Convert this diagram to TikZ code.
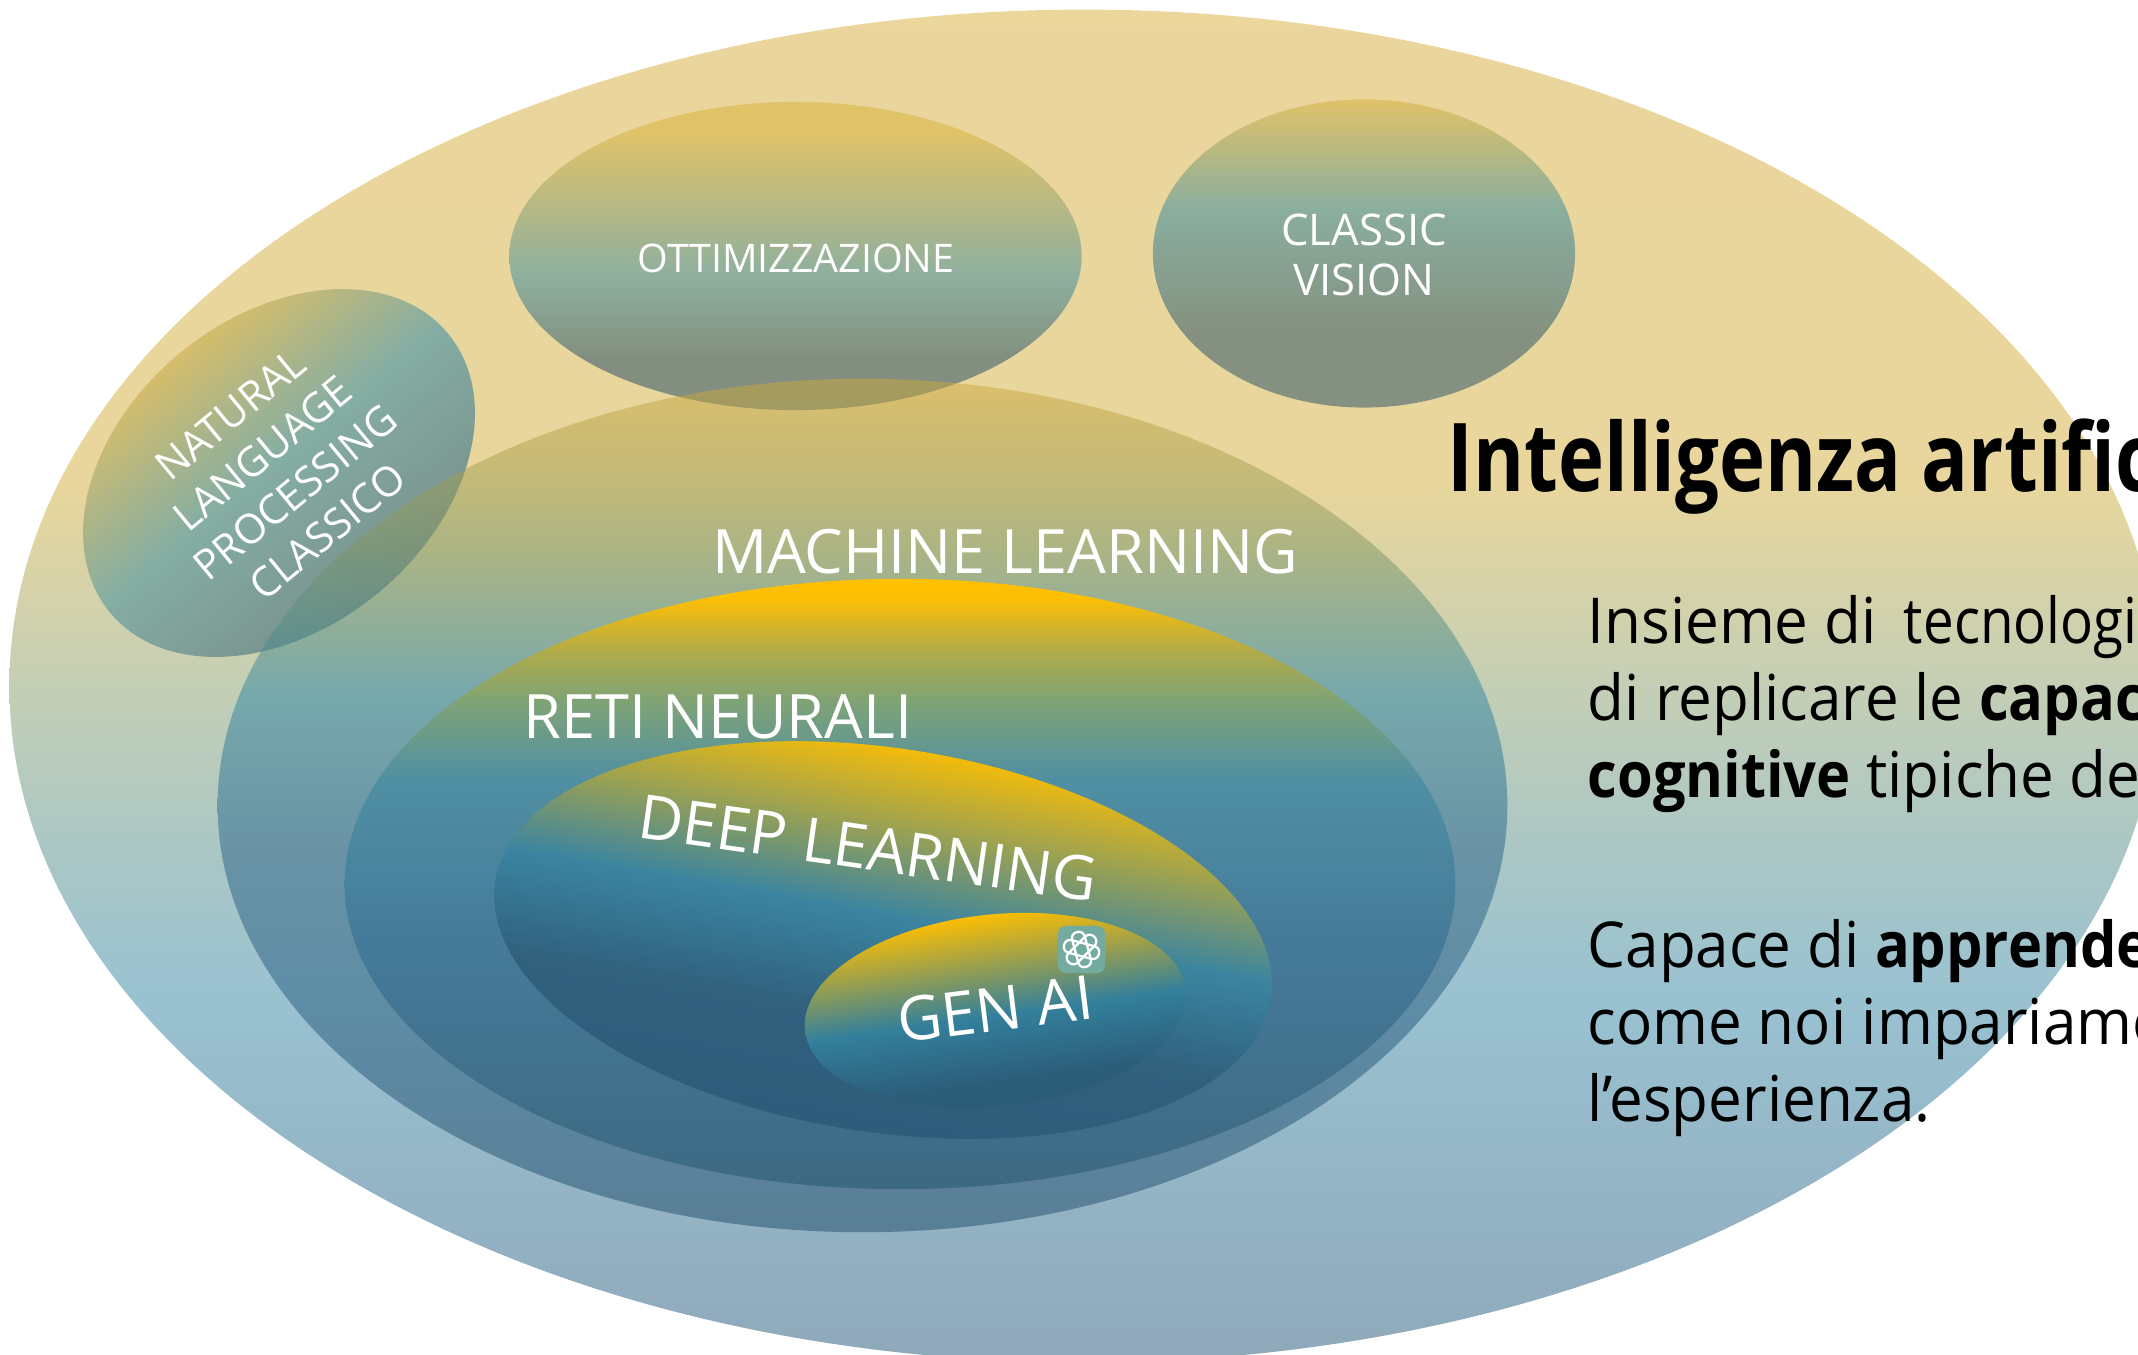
\documentclass[tikz,border=0pt]{standalone}
\usepackage{fontspec}
\usepackage{graphicx}
\setmainfont{Open Sans}
\usetikzlibrary{shapes.geometric}

\pgfdeclareverticalshading{bigfill}{100bp}{rgb(0bp)=(.56,.66,.73); rgb(25bp)=(.56,.66,.73); rgb(38.5bp)=(.60,.76,.82); rgb(44bp)=(.67,.78,.77); rgb(50bp)=(.77,.81,.71); rgb(57.5bp)=(.91,.84,.61); rgb(75bp)=(.92,.84,.61); rgb(100bp)=(.92,.84,.61)}
\pgfdeclareverticalshading{mlfill}{100bp}{rgb(0bp)=(.13,.30,.42); rgb(25bp)=(.13,.30,.42); rgb(47.5bp)=(.16,.38,.53); rgb(56.5bp)=(.17,.52,.64); rgb(65bp)=(.49,.59,.40); rgb(75bp)=(.81,.66,.24); rgb(100bp)=(.81,.66,.24)}
\pgfdeclareverticalshading{retifill}{100bp}{rgb(0bp)=(.24,.41,.51); rgb(25bp)=(.24,.41,.51); rgb(45bp)=(.27,.48,.60); rgb(58.5bp)=(.31,.56,.64); rgb(65bp)=(.50,.64,.46); rgb(69bp)=(.69,.67,.29); rgb(73.5bp)=(1,.75,.01); rgb(100bp)=(1,.75,.01)}
\pgfdeclareverticalshading{deepfill}{100bp}{rgb(0bp)=(.18,.36,.48); rgb(26.6bp)=(.18,.36,.48); rgb(40bp)=(.19,.38,.49); rgb(51bp)=(.23,.52,.63); rgb(70bp)=(1,.75,0); rgb(100bp)=(1,.75,0)}
\pgfdeclareverticalshading{genfill}{100bp}{rgb(0bp)=(.17,.36,.47); rgb(34bp)=(.17,.36,.47); rgb(49bp)=(.20,.50,.61); rgb(71bp)=(1,.75,0); rgb(100bp)=(1,.75,0)}
\pgfdeclareverticalshading{ottfill}{100bp}{rgb(0bp)=(.51,.56,.50); rgb(33.5bp)=(.51,.56,.50); rgb(47bp)=(.56,.69,.62); rgb(70bp)=(.88,.76,.41); rgb(100bp)=(.88,.76,.41)}
\pgfdeclareverticalshading{visionfill}{100bp}{rgb(0bp)=(.52,.57,.50); rgb(37.5bp)=(.52,.57,.50); rgb(57bp)=(.54,.68,.62); rgb(75bp)=(.88,.76,.41); rgb(100bp)=(.88,.76,.41)}
\pgfdeclareverticalshading{nlpfill}{100bp}{rgb(0bp)=(.47,.56,.55); rgb(29.6bp)=(.47,.56,.55); rgb(51bp)=(.52,.68,.64); rgb(70.4bp)=(.88,.75,.39); rgb(100bp)=(.88,.75,.39)}

\tikzstyle{blob} = [ellipse, inner sep=0pt, outer sep=0pt, shade, align=center, text=white]
\tikzstyle{smalltext} = [inner sep=0pt, align=center, text=white, font=\fontsize{11.2}{14.4}\selectfont]
\tikzstyle{label} = [inner sep=0pt, text=white, font=\fontsize{17.4}{20}\selectfont]
\tikzstyle{body} = [inner sep=0pt, xscale=.95, align=left, anchor=north west, text=black, font=\fontsize{18}{21.8}\selectfont]
\tikzstyle{knot} = [white, line width=.65pt, rounded corners=.06cm]
\newcommand{\hl}[1]{\scalebox{.96}[1]{\textbf{#1}}}

\begin{document}
\begin{tikzpicture}[x=.01cm, y=-.01cm]
\useasboundingbox (0,0) rectangle (2138,1355);
\clip (0,0) rectangle (2138,1355);

\node (big) [blob, shading=bigfill, minimum width=21.48cm, minimum height=13.52cm] at (1084,686) {};

\node (nlp) [blob, shading=nlpfill, shading angle=40, rotate=39.5, font=\fontsize{11.7}{14.4}\selectfont, minimum width=4.38cm, minimum height=3.11cm] at (279,473) {NATURAL\\LANGUAGE\\PROCESSING\\CLASSICO};
\node (ott) [blob, shading=ottfill, minimum width=5.72cm, minimum height=3.08cm] at (795.5,256) {};
\node (vision) [blob, shading=visionfill, minimum width=4.22cm, minimum height=3.08cm] at (1364,253.5) {};

\node (ml) [blob, shading=mlfill, fill opacity=.5, minimum width=12.89cm, minimum height=8.53cm] at (862.5,805.5) {};
\node (reti) [blob, shading=retifill, minimum width=11.1cm, minimum height=6.1cm] at (900,884) {};
\node (deep) [blob, shading=deepfill, shading angle=-10, rotate=-8.6, minimum width=7.84cm, minimum height=3.84cm] at (883,940) {};
\node (gen) [blob, shading=genfill, shading angle=8, rotate=6, minimum width=3.83cm, minimum height=1.92cm] at (995.5,1010.5) {};

\node (ottlabel) [smalltext] at (796,258) {OTTIMIZZAZIONE};
\node (visionlabel) [smalltext, font=\fontsize{12.4}{14.4}\selectfont] at (1364,255) {CLASSIC\\VISION};
\node (mllabel) [label] at (1005,552) {MACHINE LEARNING};
\node (retilabel) [label] at (718,717) {RETI NEURALI};
\node (deeplabel) [label, rotate=-8.1] at (868,848) {DEEP LEARNING};
\node (genlabel) [label, rotate=7] at (995,1009) {GEN AI};

\node (icon) [rectangle, rounded corners=.08cm, fill={rgb,255:red,116;green,171;blue,160}, minimum width=.47cm, minimum height=.47cm, inner sep=0pt] at (1081.5,949.5) {};
\foreach \a in {15,75,135} {
\draw [knot, shift={(icon.center)}, rotate=\a] (-6.5,-18) rectangle (6.5,18);
}

\node (title) [anchor=base west, inner sep=0pt, xscale=.82, text=black, font=\fontsize{27}{32}\selectfont\bfseries] at (1447,492) {Intelligenza artific};

\node (para1) [body] at (1587,595) {Insieme di \hspace{3.6pt}\scalebox{.91}[1]{tecnologi}\\di replicare le \hl{capac}\\\hl{cognitive} tipiche de};
\node (para2) [body] at (1587,919) {Capace di \hl{apprende}\\come noi impariamo\\l’esperienza.};

\end{tikzpicture}
\end{document}
